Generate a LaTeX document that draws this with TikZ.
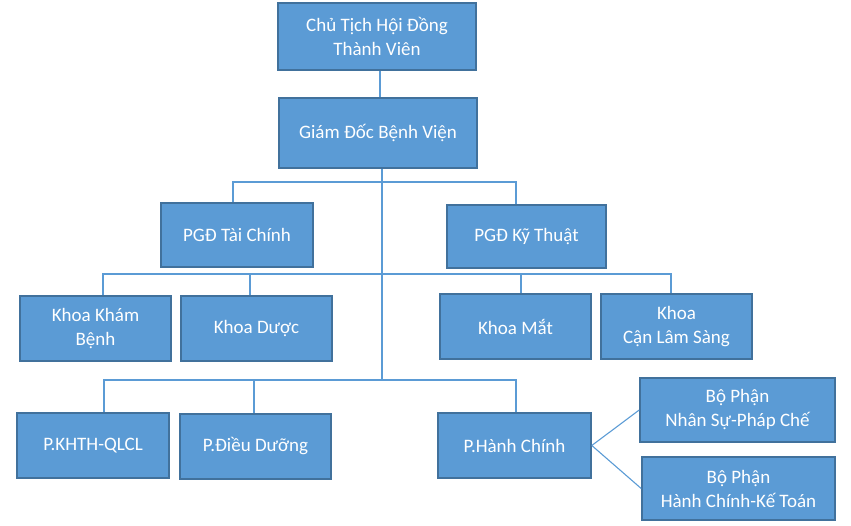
\documentclass[tikz,border=0pt]{standalone}
\usepackage{fontspec}
\setmainfont{Carlito}
\usetikzlibrary{positioning, calc}
\definecolor{orgfill}{RGB}{91,155,213}
\definecolor{orgedge}{RGB}{65,113,156}
\definecolor{orgline}{RGB}{91,155,213}

\begin{document}
\begin{tikzpicture}[x=1pt, y=-1pt, font=\fontsize{19}{24}\selectfont,
		orgbox/.style={draw=orgedge, fill=orgfill, line width=1.6pt, text=white,
		      align=center, inner sep=0pt, minimum width=151pt, minimum height=65pt},
		link/.style={draw=orgline, line width=1.1pt}]
		\useasboundingbox (0,0) rectangle (851,526);
		% ban lanh dao
		\node[orgbox, minimum width=198pt, minimum height=67pt] (chu) at (377,36.5)
		      {Chủ Tịch Hội Đồng\\Thành Viên};
		\node[orgbox, minimum width=198pt, minimum height=70pt] (gd) at (378,133)
		      {Giám Đốc Bệnh Viện};
		\node[orgbox, minimum width=152pt, minimum height=64pt] (pgdtc) at (237,235)
		      {PGĐ Tài Chính};
		\node[orgbox, minimum width=159pt, minimum height=63pt] (pgdkt) at (526.5,236.5)
		      {PGĐ Kỹ Thuật};
		% cac khoa
		\node[orgbox] (kham) at (95.5,328.5) {Khoa Khám\\Bệnh};
		\node[orgbox] (duoc) at (256.5,328.5) {Khoa Dược};
		\node[orgbox] (mat) at (515.5,326.5) {Khoa Mắt};
		\node[orgbox] (cls) at (676.5,326.5) {Khoa\\Cận Lâm Sàng};
		% cac phong
		\node[orgbox, minimum width=152pt] (khth) at (93,445.5) {P.KHTH-QLCL};
		\node[orgbox] (dd) at (255.5,446.5) {P.Điều Dưỡng};
		\node[orgbox, minimum width=153pt] (hc) at (514.5,445.5) {P.Hành Chính};
		\node[orgbox, minimum width=195pt, minimum height=64pt] (ns) at (737.5,410)
		      {Bộ Phận\\Nhân Sự-Pháp Chế};
		\node[orgbox, minimum width=193pt, minimum height=63pt] (kt) at (738.5,488.5)
		      {Bộ Phận\\Hành Chính-Kế Toán};
		% duong noi
		\coordinate (bus1) at (382,182);
		\coordinate (bus2) at (382,274);
		\coordinate (bus3) at (382,380);
		\draw[link] ([xshift=3pt]chu.south) -- ([xshift=2pt]gd.north);
		\draw[link] ([xshift=4pt]gd.south) -- (bus3);
		\draw[link] ([xshift=-4pt]pgdtc.north) |- (bus1) -| ([xshift=-10.5pt]pgdkt.north);
		\draw[link] ([xshift=7.5pt]kham.north) |- (bus2) -| ([xshift=-5.5pt]cls.north);
		\draw[link] ([xshift=-6.5pt]duoc.north) -- ++(0,-22);
		\draw[link] ([xshift=5.5pt]mat.north) -- ++(0,-20);
		\draw[link] ([xshift=11pt]khth.north) |- (bus3) -| ([xshift=1.5pt]hc.north);
		\draw[link] ([xshift=-1.5pt]dd.north) -- ++(0,-34);
		\draw[link] (hc.east) -- (ns.west);
		\draw[link] (hc.east) -- (kt.west);
	\end{tikzpicture}
\end{document}
